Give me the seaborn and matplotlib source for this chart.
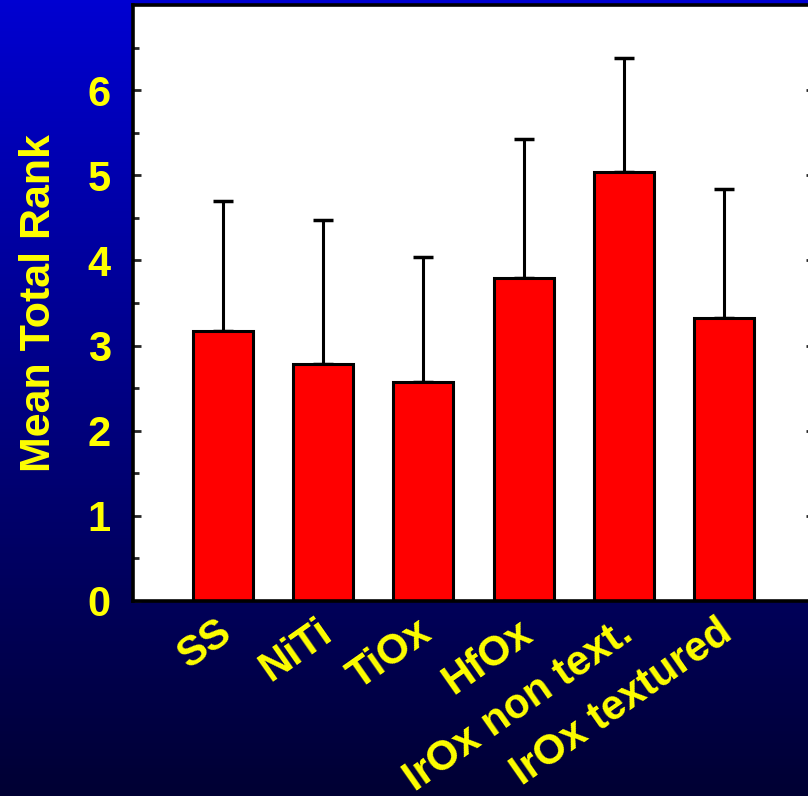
import numpy as np
import matplotlib
matplotlib.use("Agg")
import matplotlib.pyplot as plt
import matplotlib.transforms as mtransforms
import seaborn as sns

# values
categories = ["SS", "NiTi", "TiOx", "HfOx", "IrOx non text.", "IrOx textured"]
mean_rank = [3.17, 2.78, 2.57, 3.79, 5.04, 3.32]
upper_err = [1.53, 1.69, 1.47, 1.64, 1.34, 1.52]
y_ticks = [0, 1, 2, 3, 4, 5, 6]

sns.set_style("white")
plt.rcParams["font.family"] = ["Liberation Sans", "DejaVu Sans"]
plt.rcParams["font.weight"] = "bold"

fig = plt.figure(figsize=(8.08, 7.96), dpi=100)

# blue gradient background
bg = fig.add_axes([0, 0, 1, 1], zorder=0)
grad = np.linspace(0, 1, 256).reshape(-1, 1)
top = np.array([0.0, 0.0, 0.82])
bottom = np.array([0.0, 0.0, 0.20])
img = top + (bottom - top) * grad[..., None]
bg.imshow(img, aspect="auto", extent=[0, 1, 0, 1])
bg.set_axis_off()

ax = fig.add_axes([133 / 808, 195 / 796, 681 / 808, 596 / 796], zorder=1)
ax.set_facecolor("white")

sns.barplot(x=categories, y=mean_rank, color="#ff0000", saturation=1,
            width=0.6, edgecolor="black", linewidth=2.2, errorbar=None, ax=ax)

xpos = np.arange(len(categories))
ax.errorbar(xpos, mean_rank, yerr=[np.zeros(len(upper_err)), upper_err],
            fmt="none", ecolor="black", elinewidth=2.2, capsize=7,
            capthick=2.5, zorder=0.5)

ax.set_xlim(-0.9, 5.9)
ax.set_ylim(0, 7)
ax.set_yticks(y_ticks)
ax.set_yticks(np.arange(0.5, 7, 1), minor=True)

for side in ["left", "bottom", "top", "right"]:
    ax.spines[side].set_visible(True)
    ax.spines[side].set_color("black")
    ax.spines[side].set_linewidth(2.6)

ax.tick_params(axis="y", which="major", direction="in", length=6, width=2,
               left=True, right=True, labelsize=30, labelcolor="yellow", pad=16)
ax.tick_params(axis="y", which="minor", direction="in", length=4, width=2,
               left=True, right=True)
ax.tick_params(axis="x", length=0, labelsize=30, labelcolor="yellow", pad=8)

for lab in ax.get_yticklabels():
    lab.set_fontweight("bold")
ax.set_xticks(xpos)
ax.set_xticklabels(categories, rotation=35, ha="right", rotation_mode="anchor",
                   fontweight="bold")
# nudge the rotated labels a little to the left
shift = mtransforms.ScaledTranslation(-0.07, 0, fig.dpi_scale_trans)
for lab in ax.get_xticklabels():
    lab.set_transform(lab.get_transform() + shift)

ax.set_xlabel("")
ax.set_ylabel("Mean Total Rank", fontsize=31, fontweight="bold", color="yellow")
ax.yaxis.set_label_coords(-0.108, 0.5)

fig.savefig("out.png", dpi=100)
